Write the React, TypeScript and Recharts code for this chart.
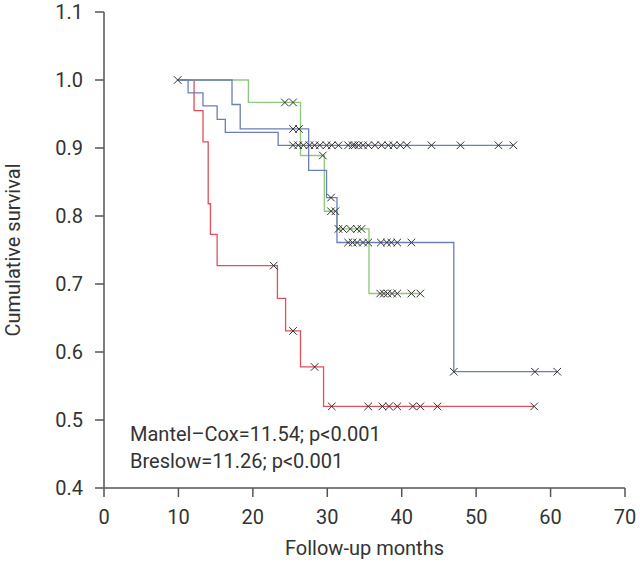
import React from "react";
import { ComposedChart, Line, Scatter, XAxis, YAxis, Label } from "recharts";

// step times (months) and cumulative survival after each step
const blueATimes = [10, 11.3, 13.3, 15.2, 16.3, 23.4, 55.0];
const blueASurv = [1.0, 0.981, 0.962, 0.942, 0.923, 0.904, 0.904];
const blueACensor = [
  9.9, 25.4, 26.1, 26.8, 27.6, 28.3, 29.0, 29.9, 30.6, 31.5, 32.8, 33.4, 33.7,
  34.2, 34.8, 35.5, 36.4, 37.3, 38.2, 38.9, 39.8, 40.7, 44.0, 47.9, 53.0, 55.0,
];

const blueBTimes = [10, 17.2, 18.3, 27.5, 29.9, 31.3, 47.0, 60.9];
const blueBSurv = [1.0, 0.964, 0.928, 0.867, 0.827, 0.761, 0.571, 0.571];
const blueBCensor = [
  25.4, 26.2, 30.5, 32.8, 33.4, 34.0, 34.8, 35.5, 37.2, 38.0, 38.6, 39.4, 41.3,
  47.0, 57.9, 60.9,
];

const greenTimes = [10, 19.4, 26.4, 29.6, 31.3, 35.6, 42.5];
const greenSurv = [1.0, 0.967, 0.889, 0.807, 0.781, 0.686, 0.686];
const greenCensor = [
  24.3, 25.4, 29.4, 30.5, 31.1, 31.5, 32.1, 33.1, 34.0, 34.6, 37.1, 37.6, 38.1,
  38.7, 39.4, 41.3, 42.5,
];

const redTimes = [10, 12.1, 13.3, 14.0, 14.3, 15.2, 23.3, 24.4, 26.4, 29.5, 57.8];
const redSurv = [1.0, 0.955, 0.909, 0.818, 0.773, 0.727, 0.679, 0.631, 0.578, 0.52, 0.52];
const redCensor = [22.8, 25.4, 28.3, 30.6, 35.5, 37.4, 38.3, 39.4, 41.5, 42.5, 44.8, 57.8];

const xTicks = [0, 10, 20, 30, 40, 50, 60, 70];
const yTicks = [0.4, 0.5, 0.6, 0.7, 0.8, 0.9, 1.0, 1.1];

const steps = (times: number[], surv: number[]) =>
  times.map((t, i) => ({ t, s: surv[i] }));

// survival value of the step curve at a censoring time
const marks = (times: number[], surv: number[], censor: number[]) =>
  censor.map((c) => {
    let s = surv[0];
    times.forEach((t, i) => {
      if (c >= t) s = surv[i];
    });
    return { t: c, s };
  });

const font = "Roboto, 'DejaVu Sans', sans-serif";
const textStyle = { fill: "#333", fontSize: 20, fontFamily: font };

const Cross = (props: any) => {
  const { cx, cy } = props;
  const r = 3.8;
  return (
    <path
      d={`M${cx - r},${cy - r}L${cx + r},${cy + r}M${cx + r},${cy - r}L${cx - r},${cy + r}`}
      stroke="#333"
      strokeWidth={1}
      fill="none"
    />
  );
};

const series = [
  { name: "red", color: "#e0505c", times: redTimes, surv: redSurv, censor: redCensor },
  { name: "green", color: "#8fc77b", times: greenTimes, surv: greenSurv, censor: greenCensor },
  { name: "blueB", color: "#6c7fb5", times: blueBTimes, surv: blueBSurv, censor: blueBCensor },
  { name: "blueA", color: "#6c7fb5", times: blueATimes, surv: blueASurv, censor: blueACensor },
];

export default function App() {
  return (
    <div style={{ position: "fixed", left: 0, top: 0, width: 640, height: 562, background: "#fff" }}>
      <ComposedChart
        width={640}
        height={562}
        margin={{ top: 12, right: 15, bottom: 0, left: 0 }}
      >
        <XAxis
          type="number"
          dataKey="t"
          domain={[0, 70]}
          ticks={xTicks}
          allowDuplicatedCategory={false}
          height={74}
          tickSize={9}
          tickMargin={13}
          stroke="#555"
          strokeWidth={1.5}
          tick={textStyle}
        >
          <Label value="Follow-up months" position="insideBottom" offset={7} style={textStyle} />
        </XAxis>
        <YAxis
          type="number"
          dataKey="s"
          domain={[0.4, 1.1]}
          ticks={yTicks}
          width={104}
          tickSize={9}
          tickMargin={12}
          stroke="#555"
          strokeWidth={1.5}
          tickFormatter={(v: number) => v.toFixed(1)}
          tick={textStyle}
        >
          <Label
            value="Cumulative survival"
            angle={-90}
            position="insideLeft"
            offset={13}
            style={{ ...textStyle, textAnchor: "middle" }}
          />
        </YAxis>
        {series.map((sr) => (
          <Line
            key={sr.name}
            data={steps(sr.times, sr.surv)}
            dataKey="s"
            type="stepAfter"
            stroke={sr.color}
            strokeWidth={1.3}
            dot={false}
            activeDot={false}
            isAnimationActive={false}
          />
        ))}
        {series.map((sr) => (
          <Scatter
            key={sr.name + "-c"}
            data={marks(sr.times, sr.surv, sr.censor)}
            dataKey="s"
            shape={<Cross />}
            isAnimationActive={false}
          />
        ))}
      </ComposedChart>
      <div
        style={{
          position: "absolute",
          left: 130,
          top: 421,
          fontFamily: font,
          fontSize: 20,
          color: "#333",
          lineHeight: "27px",
        }}
      >
        <div>Mantel–Cox=11.54; p&lt;0.001</div>
        <div>Breslow=11.26; p&lt;0.001</div>
      </div>
    </div>
  );
}
